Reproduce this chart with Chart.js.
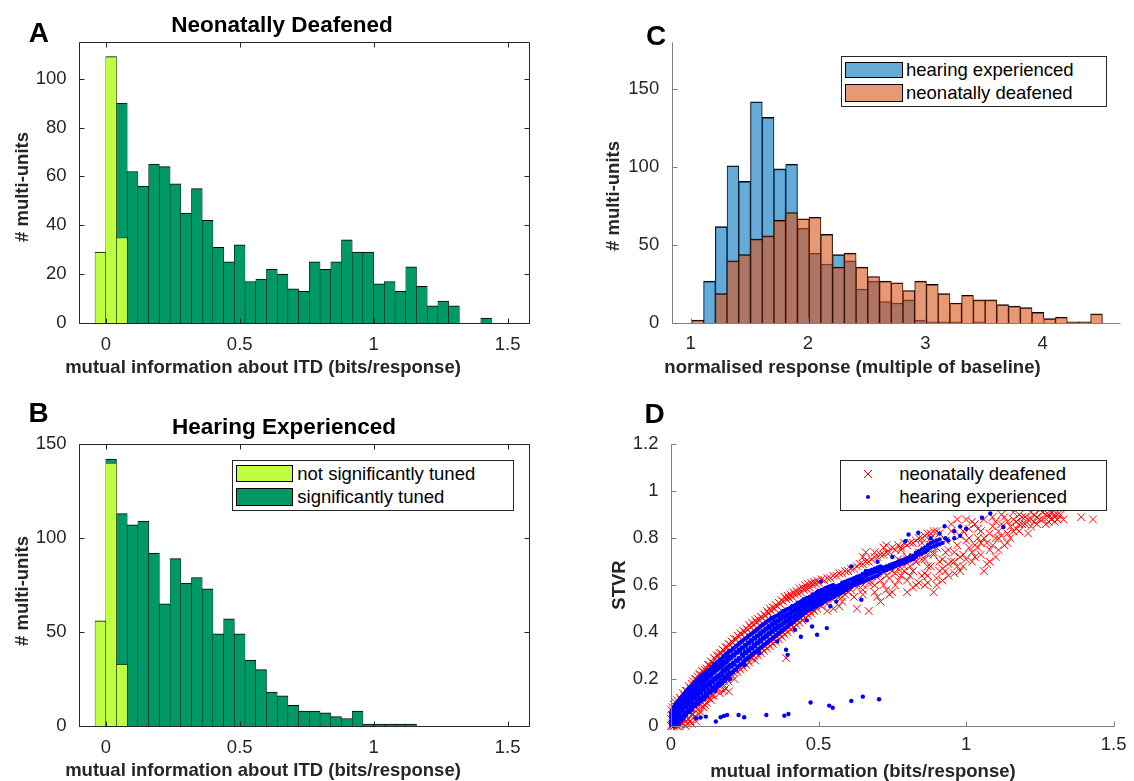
<!DOCTYPE html>
<html lang="en">
<head>
  <meta charset="UTF-8">
  <title>Mutual information about ITD</title>
  <style>
    html, body { margin: 0; padding: 0; background: #fff; }
    .figure {
      position: relative;
      width: 1134px;
      height: 781px;
      overflow: hidden;
      font-family: 'Liberation Sans', Arial, sans-serif;
      color: #262626;
    }
    .figure canvas { position: absolute; }
    .lbl {
      position: absolute;
      transform: translate(-50%, -50%);
      white-space: nowrap;
      line-height: 1;
      font-weight: bold;
      font-size: 18.5px;
    }
    .ylbl { transform: translate(-50%, -50%) rotate(-90deg); }
    .title { font-size: 22.5px; color: #000; }
    .letter { font-size: 28px; color: #000; }
    .legend-box { position: absolute; box-sizing: border-box; border: 1px solid #262626; background: #fff; }
    .patch { position: absolute; box-sizing: border-box; border: 1px solid #000; }
    .legend-txt {
      position: absolute;
      transform: translateY(-50%);
      font-size: 18.5px;
      line-height: 1;
      white-space: nowrap;
      color: #000;
    }
    .marker { position: absolute; }
  </style>
</head>
<body>
  <div class="figure">
    <canvas id="panelA" width="567" height="390" style="left:0;top:0;"></canvas>
    <canvas id="panelB" width="567" height="391" style="left:0;top:390px;"></canvas>
    <canvas id="panelC" width="567" height="390" style="left:567px;top:0;"></canvas>
    <canvas id="panelD" width="567" height="391" style="left:567px;top:390px;"></canvas>

    <!-- panel letters and titles -->
    <div class="lbl letter" style="left:38.8px;top:33.3px;">A</div>
    <div class="lbl letter" style="left:38.5px;top:412.5px;">B</div>
    <div class="lbl letter" style="left:656px;top:36px;">C</div>
    <div class="lbl letter" style="left:654.5px;top:414px;">D</div>
    <div class="lbl title" style="left:282px;top:25.3px;">Neonatally Deafened</div>
    <div class="lbl title" style="left:284px;top:427px;">Hearing Experienced</div>

    <!-- axis labels -->
    <div class="lbl" style="left:263px;top:367px;">mutual information about ITD (bits/response)</div>
    <div class="lbl" style="left:263px;top:769.5px;">mutual information about ITD (bits/response)</div>
    <div class="lbl" style="left:852.5px;top:367px;">normalised response (multiple of baseline)</div>
    <div class="lbl" style="left:863px;top:771px;">mutual information (bits/response)</div>
    <div class="lbl ylbl" style="left:22px;top:187px;"># multi-units</div>
    <div class="lbl ylbl" style="left:22px;top:591px;"># multi-units</div>
    <div class="lbl ylbl" style="left:613px;top:196px;"># multi-units</div>
    <div class="lbl ylbl" style="left:619px;top:585px;">STVR</div>

    <!-- legend B -->
    <div class="legend-box" style="left:232px;top:460px;width:282px;height:51px;"></div>
    <div class="patch" style="left:236.3px;top:465px;width:57px;height:17.3px;background:#bfff40;"></div>
    <div class="patch" style="left:236.3px;top:488.3px;width:57px;height:17.7px;background:#009966;"></div>
    <div class="legend-txt" style="left:297.3px;top:474px;">not significantly tuned</div>
    <div class="legend-txt" style="left:297.3px;top:497px;">significantly tuned</div>

    <!-- legend C -->
    <div class="legend-box" style="left:840.7px;top:56px;width:266.6px;height:51.3px;"></div>
    <div class="patch" style="left:845px;top:61.7px;width:57.7px;height:16.6px;background:rgb(102,170,215);"></div>
    <div class="patch" style="left:845px;top:84.3px;width:57.7px;height:18px;background:rgb(232,152,117);"></div>
    <div class="legend-txt" style="left:906px;top:70px;">hearing experienced</div>
    <div class="legend-txt" style="left:906px;top:93.3px;">neonatally deafened</div>

    <!-- legend D -->
    <div class="legend-box" style="left:840px;top:460px;width:267px;height:51px;"></div>
    <svg class="marker" width="10" height="10" style="left:862.7px;top:469px;">
      <path d="M1 1 L9 9 M9 1 L1 9" stroke="#ff0000" stroke-width="1" fill="none"/>
    </svg>
    <svg class="marker" width="6" height="6" style="left:864.7px;top:494px;">
      <circle cx="3" cy="3" r="2" fill="#0000ff"/>
    </svg>
    <div class="legend-txt" style="left:899.3px;top:474px;">neonatally deafened</div>
    <div class="legend-txt" style="left:899.3px;top:497px;">hearing experienced</div>
  </div>

  <script src="https://cdn.jsdelivr.net/npm/chart.js"></script>
  <script>
    // ---- Panels A and B: mutual information histograms (bins 0.04 bits wide) ----
    const miBinsA = [-0.02, 0.02, 0.06, 0.10, 0.14, 0.18, 0.22, 0.26, 0.30, 0.34,
                     0.38, 0.42, 0.46, 0.50, 0.54, 0.58, 0.62, 0.66, 0.70, 0.74,
                     0.78, 0.82, 0.86, 0.90, 0.94, 0.98, 1.02, 1.06, 1.10, 1.14,
                     1.18, 1.22, 1.26, 1.30, 1.34, 1.38, 1.42];
    const deafNotTuned = [29, 109, 35];
    const deafTuned = [0, 0, 55, 62, 56, 65, 64, 57, 45, 55,
                       42, 31, 25, 32, 17, 18, 22, 20, 14, 13,
                       25, 22, 25, 34, 29, 29, 16, 17, 13, 23,
                       15, 7, 9, 7, 0, 0, 2];

    const miBinsB = [-0.02, 0.02, 0.06, 0.10, 0.14, 0.18, 0.22, 0.26, 0.30, 0.34,
                     0.38, 0.42, 0.46, 0.50, 0.54, 0.58, 0.62, 0.66, 0.70, 0.74,
                     0.78, 0.82, 0.86, 0.90, 0.94, 0.98, 1.02, 1.06, 1.10, 1.14];
    const hearNotTuned = [56, 140, 33];
    const hearTuned = [0, 2, 80, 107, 109, 92, 65, 89, 76, 79,
                       73, 49, 57, 49, 35, 30, 18, 16, 11, 8,
                       8, 7, 5, 4, 8, 1, 1, 1, 1, 1];

    const miTicks = [0, 0.5, 1, 1.5];
    const countTicksA = [0, 20, 40, 60, 80, 100];
    const countTicksB = [0, 50, 100, 150];

    // ---- Panel C: normalised response histograms ----
    const respBins = [1.06, 1.16, 1.26, 1.36, 1.46, 1.56, 1.66, 1.76, 1.86, 1.96,
                      2.06, 2.16, 2.26, 2.36, 2.46, 2.56, 2.66, 2.76, 2.86, 2.96,
                      3.06, 3.16, 3.26, 3.36, 3.46, 3.56, 3.66, 3.76, 3.86, 3.96,
                      4.06, 4.16, 4.26, 4.36, 4.46];
    const respHearing = [0, 27, 62, 101, 91, 142, 132, 99, 102, 61,
                         45, 38, 44, 40, 22, 27, 14, 13, 15, 2,
                         1, 1, 1, 0, 1, 0, 0, 0, 0, 0,
                         0, 0, 0, 0, 0];
    const respDeaf = [2, 0, 19, 40, 44, 54, 56, 66, 71, 67,
                      68, 57, 36, 45, 36, 30, 27, 26, 21, 27,
                      25, 19, 13, 18, 15, 15, 12, 11, 10, 7,
                      3, 4, 1, 1, 6];
    const respTicks = [1, 2, 3, 4];
    const countTicksC = [0, 50, 100, 150];

    // ---- Panel D: STVR against mutual information, rows are [x, y, y, ...] ----
    const stvrTicksX = [0, 0.5, 1, 1.5];
    const stvrTicksY = [0, 0.2, 0.4, 0.6, 0.8, 1, 1.2];

    const deafScatter = [
      [0.000, 0.0, 0.03, 0.07], [0.005, 0.01, 0.08], [0.01, 0.0, 0.04, 0.09], [0.015, 0.005, 0.1],
      [0.02, 0.0, 0.06, 0.11], [0.03, 0.005, 0.12], [0.04, 0.01, 0.14], [0.05, 0.0, 0.02, 0.15],
      [0.06, 0.03, 0.17], [0.07, 0.01, 0.05, 0.18], [0.08, 0.04, 0.2], [0.09, 0.07, 0.21],
      [0.10, 0.06, 0.09, 0.22], [0.107, 0.083], [0.11, 0.08, 0.23], [0.12, 0.1, 0.245],
      [0.13, 0.12, 0.26], [0.14, 0.13, 0.27], [0.15, 0.15, 0.285], [0.16, 0.16, 0.3],
      [0.17, 0.17, 0.31], [0.18, 0.15, 0.19, 0.32], [0.19, 0.2, 0.335], [0.196, 0.147],
      [0.20, 0.21, 0.345], [0.21, 0.23, 0.355], [0.22, 0.24, 0.37], [0.23, 0.25, 0.38],
      [0.24, 0.26, 0.39], [0.25, 0.27, 0.4], [0.26, 0.28, 0.41], [0.27, 0.29, 0.42],
      [0.28, 0.3, 0.43], [0.29, 0.31, 0.44], [0.30, 0.32, 0.45], [0.31, 0.33, 0.46],
      [0.32, 0.34, 0.47], [0.33, 0.35, 0.48], [0.34, 0.36, 0.49], [0.35, 0.37, 0.5],
      [0.36, 0.38, 0.51], [0.37, 0.39, 0.52], [0.38, 0.4, 0.53], [0.39, 0.29, 0.41, 0.54],
      [0.40, 0.42, 0.545], [0.41, 0.43, 0.55], [0.42, 0.44, 0.56], [0.43, 0.45, 0.565],
      [0.44, 0.46, 0.57], [0.45, 0.47, 0.58], [0.46, 0.48, 0.585], [0.47, 0.49, 0.59],
      [0.48, 0.5, 0.6], [0.49, 0.51, 0.605], [0.50, 0.52, 0.61], [0.52, 0.53, 0.62],
      [0.54, 0.55, 0.63], [0.56, 0.57, 0.64], [0.58, 0.55, 0.59, 0.65], [0.60, 0.6, 0.66],
      [0.62, 0.61, 0.67], [0.63, 0.5], [0.64, 0.62, 0.69], [0.65, 0.56, 0.58],
      [0.66, 0.63, 0.7, 0.74], [0.67, 0.49], [0.68, 0.61, 0.64, 0.71], [0.70, 0.55, 0.65, 0.72],
      [0.71, 0.53], [0.72, 0.6, 0.66, 0.73, 0.76], [0.74, 0.56, 0.63, 0.67, 0.74], [0.75, 0.57],
      [0.76, 0.65, 0.68, 0.75], [0.77, 0.62, 0.71], [0.78, 0.7, 0.75, 0.76], [0.79, 0.68],
      [0.80, 0.57, 0.62, 0.71, 0.72, 0.77], [0.82, 0.66, 0.72, 0.78], [0.83, 0.6, 0.7],
      [0.84, 0.61, 0.74, 0.8], [0.85, 0.64, 0.78], [0.86, 0.65, 0.71, 0.75, 0.81],
      [0.87, 0.61, 0.68], [0.88, 0.68, 0.77, 0.8, 0.82], [0.89, 0.57, 0.73], [0.90, 0.63, 0.76, 0.78, 0.83],
      [0.91, 0.66, 0.82], [0.92, 0.62, 0.67, 0.71], [0.93, 0.74, 0.79], [0.94, 0.64, 0.75],
      [0.95, 0.7, 0.83, 0.86], [0.96, 0.65, 0.7], [0.97, 0.77, 0.88], [0.98, 0.66, 0.72, 0.81],
      [0.99, 0.68, 0.83], [1.00, 0.71, 0.79, 0.88], [1.01, 0.8, 0.84], [1.02, 0.7, 0.74, 0.87],
      [1.03, 0.77, 0.86], [1.04, 0.76, 0.8, 0.84], [1.05, 0.73, 0.83], [1.06, 0.66, 0.8, 0.88],
      [1.07, 0.69, 0.78], [1.08, 0.75, 0.82], [1.09, 0.85, 0.89], [1.10, 0.72, 0.8, 0.87],
      [1.11, 0.8, 0.83], [1.12, 0.86, 0.9], [1.13, 0.77, 0.89], [1.14, 0.82, 0.87],
      [1.15, 0.8, 0.85], [1.16, 0.88, 0.91], [1.17, 0.84, 0.87], [1.18, 0.83, 0.9],
      [1.19, 0.86, 0.89], [1.20, 0.86], [1.21, 0.82, 0.88], [1.22, 0.85, 0.91],
      [1.23, 0.87, 0.9], [1.24, 0.89], [1.25, 0.88, 0.92], [1.26, 0.88],
      [1.27, 0.86, 0.9], [1.28, 0.87, 0.9], [1.29, 0.88, 0.91], [1.30, 0.87, 0.89],
      [1.31, 0.88, 0.9], [1.32, 0.9], [1.39, 0.89], [1.43, 0.88],
      // fringe round the main band
      [0.005, 0.0, 0.045], [0.015, 0.02, 0.07], [0.025, 0.0, 0.09], [0.035, 0.01, 0.11],
      [0.045, 0.03, 0.13], [0.055, 0.01, 0.15], [0.065, 0.02, 0.16], [0.075, 0.05, 0.19],
      [0.085, 0.02, 0.2], [0.095, 0.05, 0.22], [0.105, 0.1, 0.235], [0.115, 0.09, 0.24],
      [0.125, 0.12, 0.26], [0.135, 0.11, 0.275], [0.145, 0.13, 0.29], [0.155, 0.16, 0.3],
      [0.165, 0.14, 0.31], [0.175, 0.18, 0.325], [0.185, 0.16, 0.335], [0.195, 0.19, 0.35],
      [0.205, 0.22, 0.36], [0.215, 0.2, 0.37], [0.225, 0.23, 0.385], [0.235, 0.24, 0.395],
      [0.245, 0.25, 0.405], [0.255, 0.26, 0.415], [0.265, 0.27, 0.43], [0.275, 0.29, 0.44],
      [0.285, 0.28, 0.45], [0.295, 0.3, 0.455], [0.305, 0.31, 0.465], [0.315, 0.32, 0.475],
      [0.325, 0.33, 0.49], [0.335, 0.34, 0.5], [0.345, 0.35, 0.505], [0.355, 0.36, 0.515],
      [0.365, 0.37, 0.525], [0.375, 0.38, 0.535], [0.385, 0.39, 0.55], [0.395, 0.4, 0.555],
      [0.405, 0.41, 0.56], [0.415, 0.42, 0.57], [0.425, 0.43, 0.575], [0.435, 0.44, 0.585],
      [0.445, 0.45, 0.59], [0.455, 0.46, 0.6], [0.465, 0.47, 0.605], [0.475, 0.48, 0.61],
      [0.485, 0.49, 0.615], [0.495, 0.5, 0.62], [0.51, 0.51, 0.625], [0.53, 0.52, 0.49, 0.63],
      [0.55, 0.5, 0.54, 0.64], [0.57, 0.51, 0.55, 0.65], [0.58, 0.53], [0.59, 0.56, 0.66],
      [0.60, 0.57], [0.61, 0.58, 0.67], [0.62, 0.55], [0.63, 0.59, 0.68], [0.65, 0.6, 0.69, 0.72],
      [0.67, 0.61, 0.7], [0.69, 0.57, 0.6, 0.72, 0.74], [0.71, 0.62, 0.73], [0.73, 0.58, 0.64, 0.74, 0.77],
      [0.75, 0.66, 0.76], [0.76, 0.6], [0.77, 0.67, 0.77], [0.78, 0.64], [0.79, 0.66, 0.78],
      [0.81, 0.64, 0.68, 0.78], [0.82, 0.59], [0.83, 0.7, 0.79], [0.85, 0.71, 0.8],
      [0.86, 0.6], [0.87, 0.64, 0.73, 0.82], [0.89, 0.74, 0.83], [0.90, 0.6], [0.91, 0.7],
      [0.93, 0.66], [0.94, 0.69], [0.96, 0.74], [0.97, 0.68], [0.99, 0.73], [1.01, 0.76],
      [1.03, 0.72], [1.05, 0.78], [1.08, 0.7], [1.09, 0.77], [1.11, 0.75], [1.12, 0.81],
      [1.14, 0.78], [1.16, 0.83], [1.18, 0.86], [1.20, 0.89], [1.22, 0.88], [1.24, 0.86],
      [1.26, 0.91], [1.28, 0.89], [1.30, 0.9], [1.33, 0.88]
    ];

    const hearScatter = [
      [0.000, 0.005, 0.02, 0.04, 0.055], [0.005, 0.01, 0.03, 0.05, 0.065], [0.010, 0.0, 0.025, 0.06, 0.08],
      [0.015, 0.015, 0.04, 0.07, 0.09], [0.020, 0.01, 0.05, 0.075, 0.1], [0.025, 0.02, 0.045, 0.085, 0.105],
      [0.030, 0.03, 0.06, 0.09, 0.115], [0.035, 0.025, 0.07, 0.1, 0.12], [0.040, 0.04, 0.075, 0.105, 0.13],
      [0.045, 0.05, 0.08, 0.115, 0.135], [0.050, 0.045, 0.09, 0.12, 0.145], [0.055, 0.06, 0.095, 0.13, 0.15],
      [0.060, 0.065, 0.1, 0.135, 0.16], [0.065, 0.07, 0.11, 0.14, 0.165], [0.070, 0.075, 0.115, 0.15, 0.17],
      [0.075, 0.085, 0.12, 0.155, 0.175], [0.080, 0.09, 0.13, 0.16, 0.185], [0.085, 0.095, 0.135, 0.165, 0.19],
      [0.090, 0.1, 0.14, 0.175, 0.195], [0.095, 0.105, 0.145, 0.18, 0.2], [0.100, 0.11, 0.15, 0.185, 0.21],
      [0.105, 0.115, 0.16, 0.19, 0.215], [0.110, 0.12, 0.165, 0.195, 0.22], [0.115, 0.125, 0.17, 0.2, 0.225],
      [0.120, 0.13, 0.175, 0.205, 0.23], [0.125, 0.14, 0.18, 0.21, 0.235], [0.130, 0.145, 0.185, 0.215, 0.24],
      [0.135, 0.15, 0.19, 0.22, 0.245], [0.140, 0.155, 0.195, 0.23, 0.25], [0.145, 0.16, 0.2, 0.235, 0.26],
      [0.150, 0.165, 0.205, 0.24, 0.265], [0.155, 0.17, 0.21, 0.245, 0.27], [0.160, 0.175, 0.215, 0.25, 0.275],
      [0.165, 0.18, 0.22, 0.255, 0.28], [0.170, 0.185, 0.225, 0.26, 0.285], [0.175, 0.19, 0.235, 0.265, 0.29],
      [0.180, 0.195, 0.24, 0.27, 0.3], [0.185, 0.2, 0.245, 0.275, 0.305], [0.190, 0.21, 0.25, 0.28, 0.31],
      [0.195, 0.215, 0.255, 0.29, 0.315], [0.200, 0.22, 0.26, 0.295, 0.32], [0.21, 0.23, 0.27, 0.305, 0.33],
      [0.22, 0.24, 0.28, 0.315, 0.34], [0.23, 0.255, 0.29, 0.325, 0.35], [0.24, 0.265, 0.305, 0.335, 0.36],
      [0.25, 0.28, 0.315, 0.345, 0.37], [0.26, 0.29, 0.325, 0.355, 0.38], [0.27, 0.3, 0.335, 0.365, 0.39],
      [0.28, 0.31, 0.345, 0.375, 0.4], [0.29, 0.32, 0.355, 0.385, 0.41], [0.30, 0.33, 0.365, 0.395, 0.42],
      [0.31, 0.34, 0.375, 0.405, 0.43], [0.32, 0.35, 0.385, 0.415, 0.44], [0.33, 0.36, 0.395, 0.425, 0.45],
      [0.34, 0.37, 0.405, 0.435, 0.46], [0.35, 0.38, 0.415, 0.445, 0.465], [0.36, 0.39, 0.425, 0.45, 0.47],
      [0.37, 0.4, 0.43, 0.46, 0.48], [0.38, 0.41, 0.44, 0.47, 0.49], [0.39, 0.42, 0.45, 0.475, 0.495],
      [0.40, 0.43, 0.46, 0.48, 0.5], [0.41, 0.44, 0.465, 0.49, 0.51], [0.42, 0.45, 0.475, 0.5, 0.515],
      [0.43, 0.46, 0.485, 0.505, 0.525], [0.44, 0.47, 0.49, 0.515, 0.53], [0.45, 0.48, 0.5, 0.52, 0.54],
      [0.46, 0.49, 0.51, 0.53, 0.545], [0.47, 0.495, 0.515, 0.535, 0.55], [0.48, 0.5, 0.525, 0.545, 0.56],
      [0.49, 0.51, 0.53, 0.55, 0.565], [0.50, 0.515, 0.54, 0.555, 0.575], [0.51, 0.52, 0.545, 0.565, 0.58],
      [0.52, 0.53, 0.55, 0.57, 0.585], [0.53, 0.54, 0.56, 0.575, 0.59], [0.54, 0.545, 0.565, 0.58, 0.595],
      [0.55, 0.55, 0.57, 0.59, 0.6], [0.56, 0.56, 0.58, 0.595], [0.57, 0.565, 0.585, 0.6],
      [0.58, 0.57, 0.59, 0.61], [0.59, 0.58, 0.6, 0.615], [0.60, 0.585, 0.605, 0.62],
      [0.62, 0.6, 0.615, 0.63], [0.64, 0.61, 0.625, 0.64], [0.66, 0.62, 0.64, 0.655],
      [0.68, 0.63, 0.65, 0.665], [0.70, 0.64, 0.66, 0.675], [0.72, 0.66, 0.675],
      [0.74, 0.67, 0.685], [0.76, 0.68, 0.695], [0.78, 0.69, 0.705], [0.80, 0.7, 0.715],
      [0.82, 0.71, 0.725], [0.84, 0.73, 0.745], [0.86, 0.74, 0.76], [0.88, 0.76, 0.78],
      [0.90, 0.77, 0.79], [0.92, 0.78], [0.94, 0.79], [0.96, 0.8], [0.98, 0.81],
      // in-between units filling the band
      [0.0025, 0.012, 0.037, 0.048], [0.0075, 0.004, 0.022, 0.058, 0.07], [0.0125, 0.018, 0.05, 0.072],
      [0.0175, 0.008, 0.033, 0.062, 0.085], [0.0225, 0.028, 0.066, 0.094], [0.0275, 0.012, 0.052, 0.078, 0.11],
      [0.0325, 0.036, 0.075, 0.101], [0.0375, 0.044, 0.088, 0.126], [0.0425, 0.032, 0.064, 0.097, 0.12],
      [0.0475, 0.058, 0.102, 0.14], [0.0525, 0.052, 0.081, 0.111, 0.133], [0.0575, 0.071, 0.122, 0.155],
      [0.0625, 0.059, 0.091, 0.127, 0.149], [0.0675, 0.083, 0.124, 0.158], [0.0725, 0.069, 0.102, 0.138, 0.163],
      [0.0775, 0.095, 0.143, 0.178], [0.0825, 0.084, 0.116, 0.151, 0.172], [0.0875, 0.108, 0.157, 0.186],
      [0.0925, 0.096, 0.128, 0.163, 0.19], [0.0975, 0.118, 0.171, 0.206], [0.1025, 0.108, 0.139, 0.176, 0.2],
      [0.1075, 0.126, 0.182, 0.218], [0.1125, 0.116, 0.152, 0.19, 0.212], [0.1175, 0.14, 0.196, 0.224],
      [0.1225, 0.128, 0.163, 0.2, 0.226], [0.1275, 0.15, 0.207, 0.238], [0.1325, 0.142, 0.174, 0.212, 0.236],
      [0.1375, 0.162, 0.217, 0.252], [0.1425, 0.152, 0.186, 0.224, 0.248], [0.1475, 0.17, 0.228, 0.262],
      [0.1525, 0.163, 0.198, 0.236, 0.258], [0.1575, 0.182, 0.24, 0.272], [0.1625, 0.172, 0.208, 0.246, 0.27],
      [0.1675, 0.194, 0.25, 0.284], [0.1725, 0.182, 0.218, 0.256, 0.281], [0.1775, 0.205, 0.262, 0.295],
      [0.1825, 0.192, 0.232, 0.268, 0.293], [0.1875, 0.216, 0.272, 0.306], [0.1925, 0.205, 0.242, 0.278, 0.302],
      [0.1975, 0.228, 0.284, 0.318], [0.205, 0.224, 0.252, 0.29, 0.322], [0.215, 0.238, 0.262, 0.3, 0.334],
      [0.225, 0.25, 0.276, 0.312, 0.344], [0.235, 0.26, 0.286, 0.32, 0.356], [0.245, 0.272, 0.298, 0.332, 0.366],
      [0.255, 0.284, 0.31, 0.342, 0.374], [0.265, 0.294, 0.32, 0.352, 0.386], [0.275, 0.306, 0.33, 0.362, 0.394],
      [0.285, 0.316, 0.34, 0.372, 0.404], [0.295, 0.326, 0.352, 0.382, 0.414], [0.305, 0.336, 0.36, 0.392, 0.426],
      [0.315, 0.346, 0.372, 0.402, 0.434], [0.325, 0.356, 0.38, 0.412, 0.444], [0.335, 0.366, 0.392, 0.42, 0.452],
      [0.345, 0.376, 0.4, 0.43, 0.458], [0.355, 0.386, 0.41, 0.438, 0.466], [0.365, 0.396, 0.418, 0.446, 0.474],
      [0.375, 0.406, 0.428, 0.456, 0.484], [0.385, 0.416, 0.438, 0.462, 0.49], [0.395, 0.424, 0.446, 0.47, 0.498],
      [0.405, 0.436, 0.456, 0.478, 0.504], [0.415, 0.444, 0.464, 0.486, 0.51], [0.425, 0.454, 0.472, 0.494, 0.518],
      [0.435, 0.462, 0.482, 0.5, 0.524], [0.445, 0.474, 0.488, 0.51, 0.534], [0.455, 0.482, 0.496, 0.516, 0.538],
      [0.465, 0.492, 0.506, 0.524, 0.546], [0.475, 0.498, 0.512, 0.53, 0.552], [0.485, 0.506, 0.52, 0.538, 0.558],
      [0.495, 0.512, 0.528, 0.546, 0.57], [0.505, 0.52, 0.535, 0.552, 0.572], [0.515, 0.526, 0.54, 0.558, 0.578],
      [0.525, 0.534, 0.548, 0.564, 0.588], [0.535, 0.54, 0.556, 0.57, 0.592], [0.545, 0.548, 0.562, 0.576, 0.598],
      [0.555, 0.552, 0.566, 0.584], [0.565, 0.56, 0.575, 0.592], [0.575, 0.566, 0.58, 0.598],
      [0.585, 0.572, 0.588, 0.606], [0.595, 0.58, 0.596, 0.612], [0.61, 0.592, 0.606, 0.624],
      [0.63, 0.604, 0.62, 0.636], [0.65, 0.614, 0.63, 0.648], [0.67, 0.626, 0.645, 0.66],
      [0.69, 0.636, 0.655, 0.67], [0.71, 0.65, 0.668, 0.68], [0.73, 0.664, 0.68],
      [0.75, 0.674, 0.69], [0.77, 0.686, 0.7], [0.79, 0.694, 0.71], [0.81, 0.706, 0.72],
      [0.83, 0.72, 0.738], [0.85, 0.735, 0.752], [0.87, 0.75, 0.77], [0.89, 0.765, 0.785],
      [0.91, 0.775, 0.795],
      // units below the main band
      [0.085, 0.033], [0.10, 0.036], [0.118, 0.04], [0.152, 0.019], [0.168, 0.037], [0.179, 0.043],
      [0.19, 0.047], [0.229, 0.047], [0.248, 0.037], [0.323, 0.047], [0.384, 0.044], [0.398, 0.051],
      [0.473, 0.10], [0.536, 0.087], [0.548, 0.078], [0.611, 0.107], [0.65, 0.125], [0.705, 0.114],
      [0.15, 0.15], [0.2, 0.2], [0.25, 0.26], [0.3, 0.31], [0.36, 0.36], [0.39, 0.325], [0.395, 0.303],
      [0.42, 0.41], [0.44, 0.38], [0.46, 0.45], [0.478, 0.424], [0.495, 0.389], [0.528, 0.417],
      [0.54, 0.51], [0.56, 0.53], [0.62, 0.6], [0.645, 0.538],
      // units above the main band
      [0.508, 0.616], [0.611, 0.68], [0.66, 0.66], [0.7, 0.7], [0.75, 0.72], [0.794, 0.787],
      [0.805, 0.816], [0.838, 0.823], [0.88, 0.8], [0.91, 0.82], [0.927, 0.851], [0.93, 0.8],
      [0.96, 0.83], [0.98, 0.85], [1.0, 0.84], [1.054, 0.887], [1.082, 0.905], [1.126, 0.848]
    ];

    // draws the MATLAB-style axes: box (optional) and inward tick marks
    const axesFrame = {
      id: 'axesFrame',
      afterDatasetsDraw(chart, args, opts) {
        const { ctx, chartArea: a, scales: { x, y } } = chart;
        const snap = v => Math.round(v) + 0.5;
        const L = snap(a.left), R = snap(a.right), T = snap(a.top), B = snap(a.bottom);
        const len = opts.tickLength;
        ctx.save();
        ctx.strokeStyle = opts.color;
        ctx.lineWidth = 1;
        ctx.beginPath();
        ctx.moveTo(L, T);
        ctx.lineTo(L, B);
        ctx.lineTo(R, B);
        if (opts.box) {
          ctx.lineTo(R, T);
          ctx.lineTo(L, T);
        }
        x.ticks.forEach(t => {
          const px = snap(x.getPixelForValue(t.value));
          ctx.moveTo(px, B); ctx.lineTo(px, B - len);
          if (opts.box) { ctx.moveTo(px, T); ctx.lineTo(px, T + len); }
        });
        y.ticks.forEach(t => {
          const py = snap(y.getPixelForValue(t.value));
          ctx.moveTo(L, py); ctx.lineTo(L + len, py);
          if (opts.box) { ctx.moveTo(R, py); ctx.lineTo(R - len, py); }
        });
        ctx.stroke();
        ctx.restore();
      }
    };

    Chart.defaults.font.family = "'Liberation Sans', Arial, sans-serif";
    Chart.defaults.color = '#262626';

    function axis(min, max, ticks, size, pad, horizontal, stacked) {
      return {
        type: 'linear',
        min: min,
        max: max,
        offset: false,
        stacked: stacked,
        grid: { display: false, drawTicks: false },
        border: { display: false },
        ticks: {
          padding: pad,
          autoSkip: false,
          maxRotation: 0,
          color: '#262626',
          font: { size: 18.5 },
          callback: v => String(v)
        },
        afterBuildTicks: s => { s.ticks = ticks.map(v => ({ value: v })); },
        afterFit: s => { if (horizontal) { s.height = size; } else { s.width = size; } }
      };
    }

    function options(p) {
      return {
        responsive: false,
        animation: false,
        events: [],
        layout: { padding: p.padding, autoPadding: false },
        plugins: {
          legend: { display: false },
          tooltip: { enabled: false },
          axesFrame: { box: p.box, color: p.axisColor, tickLength: 5 }
        },
        scales: {
          x: axis(p.xMin, p.xMax, p.xTicks, p.xHeight, p.xPad, true, p.stacked),
          y: axis(p.yMin, p.yMax, p.yTicks, p.yWidth, 12.5, false, p.stacked)
        }
      };
    }

    const barStyle = {
      barPercentage: 1,
      categoryPercentage: 1,
      borderColor: '#000',
      borderWidth: { top: 1, left: 0.5, right: 0.5, bottom: 0 }
    };

    function bins(xs, ys) {
      return xs.map((x, i) => ({ x: x, y: ys[i] || 0 })).filter(p => p.y > 0);
    }

    function points(rows) {
      return rows.flatMap(([x, ...ys]) => ys.map(y => ({ x: x, y: y })));
    }

    // Panel A
    new Chart(document.getElementById('panelA'), {
      type: 'bar',
      data: {
        datasets: [
          Object.assign({ label: 'not significantly tuned', data: bins(miBinsA, deafNotTuned), backgroundColor: '#bfff40' }, barStyle),
          Object.assign({ label: 'significantly tuned', data: bins(miBinsA, deafTuned), backgroundColor: '#009966' }, barStyle)
        ]
      },
      options: options({
        padding: { left: 0, top: 42, right: 38, bottom: 0 },
        xMin: -0.1, xMax: 1.58, xTicks: miTicks, xHeight: 67, xPad: 10.5,
        yMin: 0, yMax: 115, yTicks: countTicksA, yWidth: 79,
        box: true, axisColor: '#262626', stacked: true
      }),
      plugins: [axesFrame]
    });

    // Panel B
    new Chart(document.getElementById('panelB'), {
      type: 'bar',
      data: {
        datasets: [
          Object.assign({ label: 'not significantly tuned', data: bins(miBinsB, hearNotTuned), backgroundColor: '#bfff40' }, barStyle),
          Object.assign({ label: 'significantly tuned', data: bins(miBinsB, hearTuned), backgroundColor: '#009966' }, barStyle)
        ]
      },
      options: options({
        padding: { left: 0, top: 54, right: 38, bottom: 0 },
        xMin: -0.1, xMax: 1.58, xTicks: miTicks, xHeight: 55, xPad: 10.5,
        yMin: 0, yMax: 150, yTicks: countTicksB, yWidth: 79,
        box: true, axisColor: '#262626', stacked: true
      }),
      plugins: [axesFrame]
    });

    // Panel C (overlapping semi-transparent histograms)
    new Chart(document.getElementById('panelC'), {
      type: 'bar',
      data: {
        datasets: [
          Object.assign({ label: 'hearing experienced', data: bins(respBins, respHearing), backgroundColor: 'rgba(0,114,189,0.6)', grouped: false, order: 2 }, barStyle),
          Object.assign({ label: 'neonatally deafened', data: bins(respBins, respDeaf), backgroundColor: 'rgba(217,83,25,0.6)', grouped: false, order: 1 }, barStyle)
        ]
      },
      options: options({
        padding: { left: 0, top: 41.7, right: 14, bottom: 0 },
        xMin: 0.838, xMax: 4.66, xTicks: respTicks, xHeight: 66.7, xPad: 9.5,
        yMin: 0, yMax: 180.5, yTicks: countTicksC, yWidth: 104.7,
        box: false, axisColor: '#808080', stacked: false
      }),
      plugins: [axesFrame]
    });

    // Panel D (scatter)
    new Chart(document.getElementById('panelD'), {
      type: 'scatter',
      data: {
        datasets: [
          {
            label: 'neonatally deafened',
            data: points(deafScatter),
            pointStyle: 'crossRot',
            radius: 5.5,
            borderColor: '#ff0000',
            borderWidth: 1,
            backgroundColor: '#ff0000',
            clip: false,
            order: 2
          },
          {
            label: 'hearing experienced',
            data: points(hearScatter),
            pointStyle: 'circle',
            radius: 2.2,
            borderWidth: 0,
            backgroundColor: '#0000ff',
            clip: false,
            order: 1
          }
        ]
      },
      options: options({
        padding: { left: 0, top: 54.3, right: 11.7, bottom: 0 },
        xMin: 0, xMax: 1.5, xTicks: stvrTicksX, xHeight: 55, xPad: 7.5,
        yMin: 0, yMax: 1.2, yTicks: stvrTicksY, yWidth: 104,
        box: false, axisColor: '#808080', stacked: false
      }),
      plugins: [axesFrame]
    });
  </script>
</body>
</html>
